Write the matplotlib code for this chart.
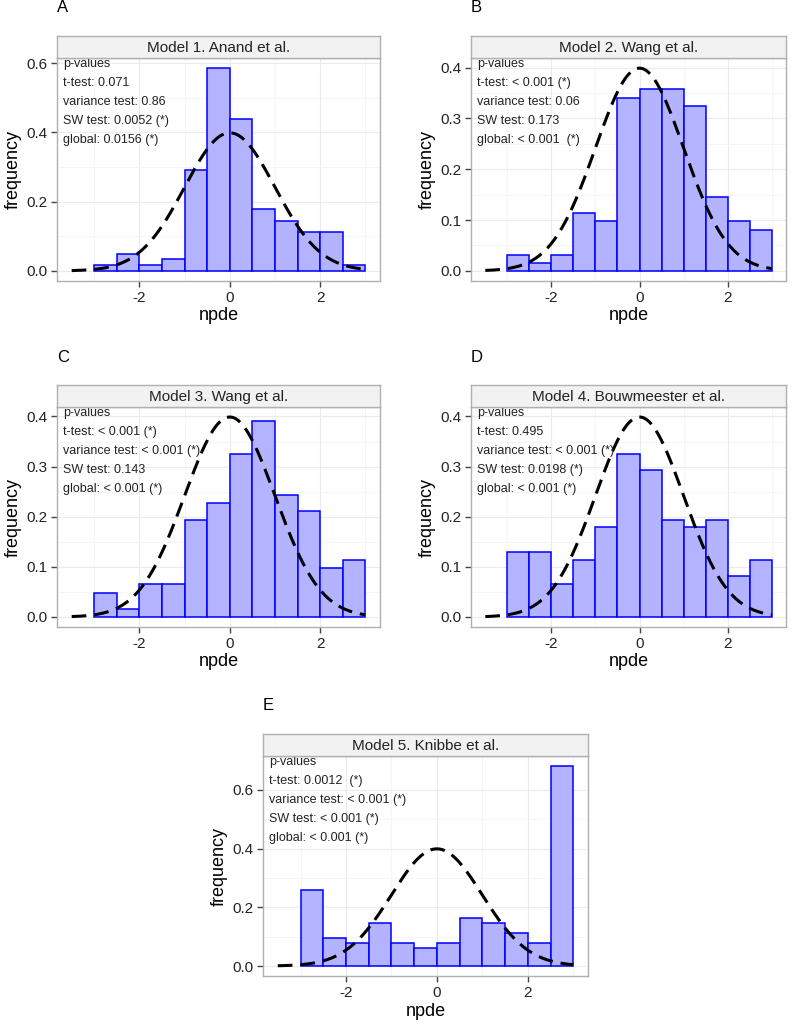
import numpy as np
import matplotlib
matplotlib.use("Agg")
import matplotlib.pyplot as plt

plt.rcParams['font.family'] = ['Liberation Sans', 'DejaVu Sans']

# histogram bins (npde), width 0.5 from -3 to 3
bin_edges = [-3.0, -2.5, -2.0, -1.5, -1.0, -0.5, 0.0, 0.5, 1.0, 1.5, 2.0, 2.5, 3.0]

# bar heights (density)
freq_A = [0.016, 0.048, 0.016, 0.033, 0.293, 0.586, 0.440, 0.179, 0.145, 0.113, 0.113, 0.016]
freq_B = [0.032, 0.016, 0.032, 0.114, 0.098, 0.341, 0.357, 0.357, 0.325, 0.146, 0.098, 0.081]
freq_C = [0.048, 0.015, 0.065, 0.065, 0.194, 0.227, 0.326, 0.390, 0.244, 0.212, 0.098, 0.113]
freq_D = [0.130, 0.130, 0.065, 0.113, 0.179, 0.326, 0.293, 0.194, 0.179, 0.194, 0.081, 0.113]
freq_E = [0.260, 0.096, 0.079, 0.145, 0.079, 0.062, 0.079, 0.163, 0.145, 0.113, 0.079, 0.681]

titles = ["Model 1. Anand et al.", "Model 2. Wang et al.", "Model 3. Wang et al.",
          "Model 4. Bouwmeester et al.", "Model 5. Knibbe et al."]
letters = ["A", "B", "C", "D", "E"]

pvals_A = ["p-values", "t-test: 0.071", "variance test: 0.86", "SW test: 0.0052 (*)", "global: 0.0156 (*)"]
pvals_B = ["p-values", "t-test: < 0.001 (*)", "variance test: 0.06", "SW test: 0.173", "global: < 0.001  (*)"]
pvals_C = ["p-values", "t-test: < 0.001 (*)", "variance test: < 0.001 (*)", "SW test: 0.143", "global: < 0.001 (*)"]
pvals_D = ["p-values", "t-test: 0.495", "variance test: < 0.001 (*)", "SW test: 0.0198 (*)", "global: < 0.001 (*)"]
pvals_E = ["p-values", "t-test: 0.0012  (*)", "variance test: < 0.001 (*)", "SW test: < 0.001 (*)", "global: < 0.001 (*)"]

yticks_A = [0.0, 0.2, 0.4, 0.6]
yticks_B = [0.0, 0.1, 0.2, 0.3, 0.4]
xticks = [-2, 0, 2]

# theoretical N(0,1) density over the npde range
x_curve = np.linspace(-3.5, 3.0, 300)
y_curve = np.exp(-x_curve ** 2 / 2) / np.sqrt(2 * np.pi)

W, H = 800, 1026
fig = plt.figure(figsize=(W / 100, H / 100), dpi=100)

# panel boxes in pixels: left, right, top, bottom
boxes = [(57, 380, 58, 281), (471, 786, 58, 281),
         (57, 380, 407, 627), (471, 786, 407, 627),
         (263, 588, 756, 976)]
freqs = [freq_A, freq_B, freq_C, freq_D, freq_E]
pvals = [pvals_A, pvals_B, pvals_C, pvals_D, pvals_E]
yticks_all = [yticks_A, yticks_B, yticks_B, yticks_B, yticks_A]

edges = np.array(bin_edges)
widths = np.diff(edges)
strip_h = 22
grey = '#444444'

for i in range(5):
    l, r, t, b = boxes[i]
    ax = fig.add_axes([l / W, 1 - b / H, (r - l) / W, (b - t) / H])
    f = freqs[i]
    ax.bar(edges[:-1], f, width=widths, align='edge', color='#B3B3FF',
           edgecolor='blue', linewidth=1.1, zorder=2)
    ax.plot(x_curve, y_curve, color='black', lw=2.2, dashes=(4.8, 2.6), zorder=3)

    ymax = max(max(f), y_curve.max())
    ax.set_ylim(-0.05 * ymax, 1.05 * ymax)
    ax.set_xlim(-3.825, 3.325)

    ax.set_xticks(xticks)
    ax.set_xticklabels([str(v) for v in xticks])
    yt = yticks_all[i]
    ax.set_yticks(yt)
    ax.set_yticklabels(["%.1f" % v for v in yt])
    ax.set_xticks([-3, -1, 1, 3], minor=True)
    step = yt[1] - yt[0]
    ax.set_yticks([v + step / 2 for v in yt[:-1]], minor=True)
    ax.grid(which='major', color='#EBEBEB', lw=0.8, zorder=0)
    ax.grid(which='minor', color='#F4F4F4', lw=0.6, zorder=0)
    ax.set_axisbelow(True)
    ax.tick_params(which='major', length=4, width=1, color=grey, labelcolor='#222222',
                   labelsize=11, pad=3)
    ax.tick_params(which='minor', length=0)
    for s in ax.spines.values():
        s.set_color('#B0B0B0')
        s.set_linewidth(1)
    ax.set_xlabel("npde", fontsize=13, labelpad=2)
    ax.set_ylabel("frequency", fontsize=13, labelpad=3)

    for k, line in enumerate(pvals[i]):
        ax.annotate(line, xy=(0, 1), xycoords='axes fraction',
                    xytext=(6, -6 - 19 * k), textcoords='offset pixels',
                    ha='left', va='center', fontsize=9, color='#222222', zorder=4)

    # facet strip
    sax = fig.add_axes([l / W, 1 - t / H, (r - l) / W, strip_h / H])
    sax.set_facecolor('#F2F2F2')
    sax.set_xticks([])
    sax.set_yticks([])
    for s in sax.spines.values():
        s.set_color('#B0B0B0')
        s.set_linewidth(1)
    sax.text(0.5, 0.45, titles[i], ha='center', va='center', fontsize=11,
             color='#222222', transform=sax.transAxes)

    # panel letter
    fig.text(l / W, 1 - (t - 50) / H, letters[i], fontsize=12,
             ha='left', va='center')

fig.savefig("out.png", dpi=100)
